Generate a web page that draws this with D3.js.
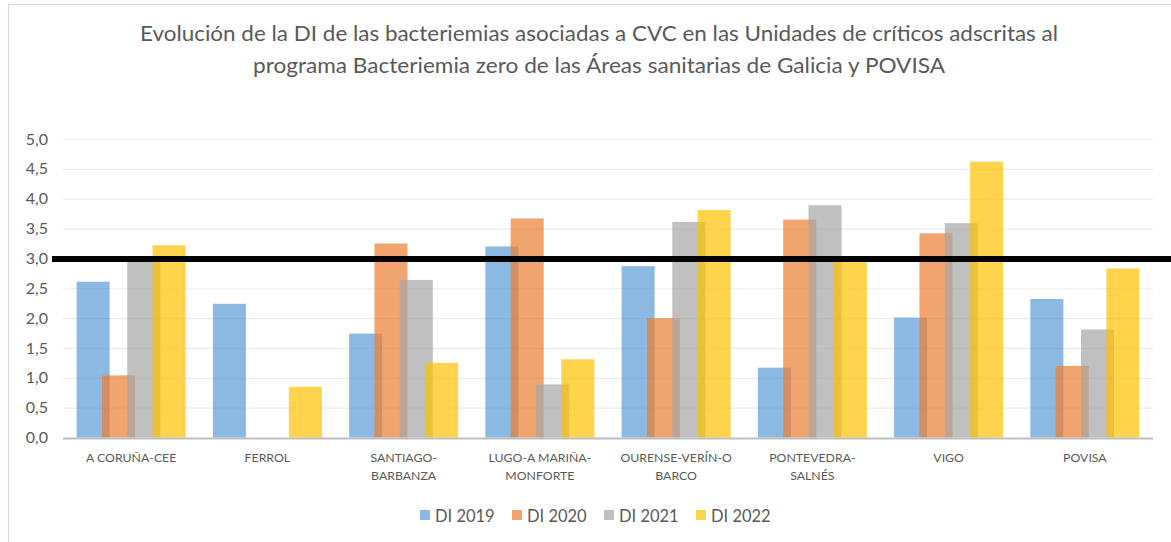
<!DOCTYPE html>
<html>
<head>
<meta charset="utf-8">
<script src="https://cdn.jsdelivr.net/npm/d3@7"></script>
<style>
    body { margin: 0; background: #ffffff; }
    text { font-family: Lato, "Open Sans", sans-serif; fill: #595959; }
</style>
</head>
<body>
<div id="chart"></div>
<script>

// ---- data ----
const categories = ["A CORUÑA-CEE", "FERROL", "SANTIAGO-BARBANZA", "LUGO-A MARIÑA-MONFORTE",
    "OURENSE-VERÍN-O BARCO", "PONTEVEDRA-SALNÉS", "VIGO", "POVISA"];
const categoryLines = [["A CORUÑA-CEE"], ["FERROL"], ["SANTIAGO-", "BARBANZA"], ["LUGO-A MARIÑA-", "MONFORTE"],
    ["OURENSE-VERÍN-O", "BARCO"], ["PONTEVEDRA-", "SALNÉS"], ["VIGO"], ["POVISA"]];

const seriesNames = ["DI 2019", "DI 2020", "DI 2021", "DI 2022"];
const di2019 = [2.61, 2.24, 1.74, 3.20, 2.87, 1.17, 2.01, 2.32];
const di2020 = [1.04, 0, 3.25, 3.67, 2.00, 3.65, 3.42, 1.20];
const di2021 = [2.95, 0, 2.64, 0.89, 3.61, 3.89, 3.59, 1.81];
const di2022 = [3.22, 0.85, 1.25, 1.31, 3.81, 2.95, 4.62, 2.83];

const yTicks = [0, 0.5, 1, 1.5, 2, 2.5, 3, 3.5, 4, 4.5, 5];
const referenceValue = 3.0;

const titleLines = ["Evolución de la DI de las bacteriemias asociadas a CVC en las Unidades de críticos adscritas al",
    "programa Bacteriemia zero de las Áreas sanitarias de Galicia y POVISA"];

const colors = ["#5B9BD5", "#ED7D31", "#A5A5A5", "#FFC000"];

// ---- drawing ----
let width = 1171, height = 542;
let margin = { top: 139, right: 18, bottom: 104.5, left: 63 };

let svg = d3.select("#chart").append("svg")
    .attr("width", width)
    .attr("height", height);

// outer frame
svg.append("rect")
    .attr("x", 8.5)
    .attr("y", 4.5)
    .attr("width", 1180)
    .attr("height", 560)
    .attr("fill", "none")
    .attr("stroke", "#d9d9d9")
    .attr("stroke-width", 1.2);

// title
svg.selectAll(".title")
    .data(titleLines)
    .enter()
    .append("text")
    .attr("class", "title")
    .attr("x", 599)
    .attr("y", (d, i) => 41 + i * 32)
    .attr("text-anchor", "middle")
    .attr("textLength", (d, i) => i == 0 ? 918 : 692)
    .attr("lengthAdjust", "spacingAndGlyphs")
    .style("font-size", "21px")
    .text(d => d);

let x0 = d3.scaleBand()
    .domain(categories)
    .range([margin.left, width - margin.right])
    .paddingInner(0.2)
    .paddingOuter(0.1);

let barW = x0.bandwidth() * 0.303;
let x1 = d3.scaleLinear()
    .domain([0, seriesNames.length - 1])
    .range([0, x0.bandwidth() - barW]);

let y = d3.scaleLinear()
    .domain([0, 5])
    .range([height - margin.bottom, margin.top]);

// gridlines
let yAxis = d3.axisLeft(y)
    .tickValues(yTicks)
    .tickSize(-(width - margin.left - margin.right))
    .tickPadding(15)
    .tickFormat(d => d3.format(".1f")(d).replace(".", ","));

let gy = svg.append("g")
    .attr("transform", `translate(${margin.left},0)`)
    .call(yAxis);
gy.select(".domain").remove();
gy.selectAll(".tick line").attr("stroke", "#ebebeb").attr("stroke-width", 1.2);
gy.selectAll(".tick text").style("font-size", "16px").attr("fill", "#595959");

// bars
let seriesData = [di2019, di2020, di2021, di2022];

seriesData.forEach(function(values, s) {
    svg.selectAll(".bar-" + s)
        .data(values)
        .enter()
        .append("rect")
        .attr("class", "bar-" + s)
        .attr("x", (d, i) => x0(categories[i]) + x1(s))
        .attr("y", d => y(d))
        .attr("width", barW)
        .attr("height", d => y(0) - y(d))
        .attr("fill", colors[s])
        .attr("fill-opacity", 0.7);
});

// baseline
svg.append("line")
    .attr("x1", margin.left)
    .attr("x2", width - margin.right)
    .attr("y1", y(0) + 1)
    .attr("y2", y(0) + 1)
    .attr("stroke", "#bfbfbf")
    .attr("stroke-width", 2);

// category labels
let xLabels = svg.selectAll(".xlabel")
    .data(categoryLines)
    .enter()
    .append("text")
    .attr("class", "xlabel")
    .attr("text-anchor", "middle")
    .style("font-size", "12.3px")
    .attr("transform", (d, i) => `translate(${x0(categories[i]) + x0.bandwidth() / 2}, 462)`);

xLabels.selectAll("tspan")
    .data(d => d)
    .enter()
    .append("tspan")
    .attr("x", 0)
    .attr("y", (d, i) => i * 18)
    .text(d => d);

// black reference line drawn over the chart
svg.append("line")
    .attr("x1", 52)
    .attr("x2", width)
    .attr("y1", y(referenceValue) + 0.5)
    .attr("y2", y(referenceValue) + 0.5)
    .attr("stroke", "#000000")
    .attr("stroke-width", 6);

// legend
let legend = svg.append("g")
    .attr("transform", "translate(420, 510)");

let legendItems = legend.selectAll("g")
    .data(seriesNames)
    .enter()
    .append("g")
    .attr("transform", (d, i) => `translate(${i * 92}, 0)`);

legendItems.append("rect")
    .attr("width", 10)
    .attr("height", 10)
    .attr("fill", (d, i) => colors[i])
    .attr("fill-opacity", 0.7);

legendItems.append("text")
    .attr("x", 15)
    .attr("y", 11.5)
    .style("font-size", "16.5px")
    .text(d => d);

</script>
</body>
</html>
